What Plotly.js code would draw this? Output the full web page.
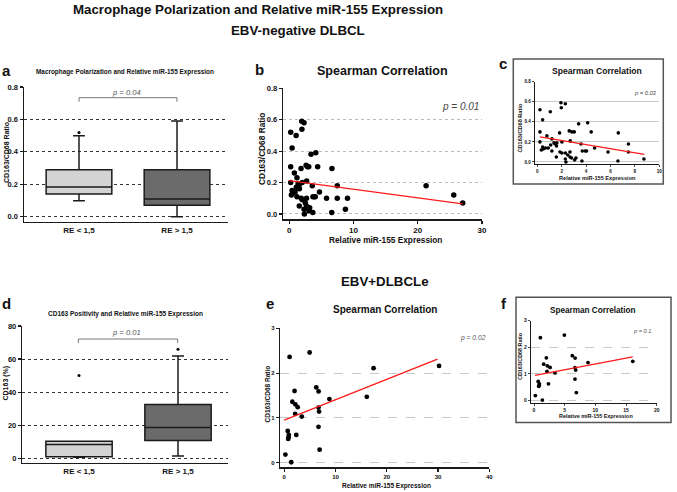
<!DOCTYPE html>
<html><head><meta charset="utf-8">
<script src="https://cdn.plot.ly/plotly-3.0.1.min.js"></script>
<style>html,body{margin:0;padding:0;background:#fff}#chart{width:677px;height:492px}</style>
</head><body><div id="chart"></div>
<script>
// ---------- DATA ----------
const boxCats = ['RE < 1,5', 'RE > 1,5'];
// a: CD163/CD68 ratio by relative miR-155 expression group
const ratioQ1 = [0.14, 0.07];
const ratioMedian = [0.183, 0.109];
const ratioQ3 = [0.29, 0.29];
const ratioLow = [0.099, 0.0];
const ratioHigh = [0.50, 0.59];
const ratioOutCat = ['RE < 1,5'];
const ratioOutY = [0.52];
// d: CD163 positivity (%)
const cd163Q1 = [1.0, 10.7];
const cd163Median = [8.3, 18.6];
const cd163Q3 = [10.3, 32.5];
const cd163Low = [0.6, 1.4];
const cd163High = [10.3, 61.8];
const cd163OutCat = ['RE < 1,5', 'RE > 1,5'];
const cd163OutY = [50, 66];

// b: EBV-negative, all cases
const bX = [0.22,0.44,1.07,1.94,2.30,1.97,3.39,4.13,0.22,0.79,1.83,2.62,2.84,3.03,4.42,6.64,0.22,1.20,1.37,1.48,1.60,2.02,2.70,3.58,7.47,0.44,0.68,0.90,0.33,1.58,1.20,1.56,1.86,2.02,2.30,2.68,3.69,3.93,4.04,4.70,5.80,7.47,2.30,2.35,2.68,3.06,3.17,2.81,3.66,6.61,8.74,0.50,1.10,2.50,9.06,21.3,25.6,27.0];
const bY = [0.52,0.42,0.50,0.59,0.58,0.54,0.38,0.39,0.30,0.26,0.29,0.31,0.30,0.30,0.30,0.29,0.20,0.23,0.19,0.18,0.19,0.20,0.21,0.18,0.18,0.15,0.14,0.14,0.12,0.16,0.11,0.05,0.10,0.09,0.09,0.10,0.11,0.11,0.11,0.14,0.10,0.10,0.03,0.00,0.05,0.02,0.04,0.04,0.01,0.01,0.03,0.13,0.17,0.07,0.10,0.18,0.12,0.07];
const bFitX = [0, 27.0];
const bFitY = [0.212, 0.064];
// c: EBV-negative, expression < 10
const cX = [0.22,0.44,1.07,1.94,2.30,1.97,3.39,4.13,0.22,0.79,1.83,2.62,2.84,3.03,4.42,6.64,0.22,1.20,1.37,1.48,1.60,2.02,2.70,3.58,7.47,0.44,0.68,0.90,0.33,1.58,1.20,1.56,1.86,2.02,2.30,2.68,3.69,3.93,4.04,4.70,5.80,7.47,2.30,2.35,2.68,3.06,3.17,2.81,3.66,6.61,8.74,0.50,1.10,2.50];
const cY = [0.52,0.42,0.50,0.59,0.58,0.54,0.38,0.39,0.30,0.26,0.29,0.31,0.30,0.30,0.30,0.29,0.20,0.23,0.19,0.18,0.19,0.20,0.21,0.18,0.18,0.15,0.14,0.14,0.12,0.16,0.11,0.05,0.10,0.09,0.09,0.10,0.11,0.11,0.11,0.14,0.10,0.10,0.03,0.00,0.05,0.02,0.04,0.04,0.01,0.01,0.03,0.13,0.17,0.07];
const cFitX = [0.22, 8.77];
const cFitY = [0.25, 0.076];
// e: EBV+ DLBCL, all cases
const eX = [0.22,1.36,1.04,4.95,2.01,1.58,2.17,2.62,2.12,3.42,0.68,0.88,0.84,0.77,2.35,6.25,6.70,6.68,6.79,6.68,6.90,8.80,16.1,17.42,30.2];
const eY = [0.18,0.01,2.36,2.46,1.60,1.36,1.30,1.24,1.09,1.03,0.71,0.62,0.57,0.53,0.62,1.68,1.59,1.23,1.14,0.80,0.29,1.42,1.47,2.11,2.16];
const eFitX = [0, 29.9];
const eFitY = [0.95, 2.31];
// f: EBV+ DLBCL, expression < 20
const fX = [0.22,1.36,1.04,4.95,2.01,1.58,2.17,2.62,2.12,3.42,0.68,0.88,0.84,0.77,2.35,6.25,6.70,6.68,6.79,6.68,6.90,8.80,16.1];
const fY = [0.18,0.01,2.36,2.46,1.60,1.36,1.30,1.24,1.09,1.03,0.71,0.62,0.57,0.53,0.62,1.68,1.59,1.23,1.14,0.80,0.29,1.42,1.47];
const fFitX = [0.16, 16.1];
const fFitY = [0.94, 1.64];

// ---------- HELPERS ----------
const W = 677, H = 492;
const px = v => v / W;
const py = v => 1 - v / H;
const FONT = 'Liberation Sans, Arial, sans-serif';

function ann(text, x, y, size, extra) {
  return Object.assign({
    text: text, x: px(x), y: py(y), xref: 'paper', yref: 'paper',
    showarrow: false, xanchor: 'center', yanchor: 'middle',
    font: {family: FONT, size: size, color: '#111'}
  }, extra || {});
}
function tf(size) { return {family: FONT, size: size, color: '#111', weight: 700}; }
function axis(domainPx, range, opts, vertical) {
  const d = vertical ? [py(domainPx[0]), py(domainPx[1])] : [px(domainPx[0]), px(domainPx[1])];
  return Object.assign({
    domain: d, range: range, showline: true, linecolor: '#1a1a1a', linewidth: 1.5,
    ticks: 'outside', ticklen: 3, tickwidth: 1.2, tickcolor: '#1a1a1a',
    zeroline: false, showgrid: false, fixedrange: true,
    tickfont: tf(7.5)
  }, opts || {});
}

const boxLine = {color: '#1a1a1a', width: 1.5};
function boxTrace(xa, ya, i, q1, med, q3, lo, hi, fill) {
  return {type: 'box', xaxis: xa, yaxis: ya, x: [boxCats[i]],
    q1: [q1[i]], median: [med[i]], q3: [q3[i]], lowerfence: [lo[i]], upperfence: [hi[i]],
    fillcolor: fill, line: boxLine, whiskerwidth: 0.18, width: 0.67, boxpoints: false,
    hoverinfo: 'skip'};
}
function dots(xa, ya, x, y, size) {
  return {type: 'scatter', mode: 'markers', xaxis: xa, yaxis: ya, x: x, y: y,
    marker: {color: '#000', size: size}, hoverinfo: 'skip'};
}
function fit(xa, ya, x, y) {
  return {type: 'scatter', mode: 'lines', xaxis: xa, yaxis: ya, x: x, y: y,
    line: {color: '#ff1a1a', width: 1.3}, hoverinfo: 'skip'};
}

const traces = [
  boxTrace('x', 'y', 0, ratioQ1, ratioMedian, ratioQ3, ratioLow, ratioHigh, '#d3d3d3'),
  boxTrace('x', 'y', 1, ratioQ1, ratioMedian, ratioQ3, ratioLow, ratioHigh, '#6b6b6b'),
  dots('x', 'y', ratioOutCat, ratioOutY, 3),
  dots('x2', 'y2', bX, bY, 5.5),
  fit('x2', 'y2', bFitX, bFitY),
  dots('x3', 'y3', cX, cY, 3.6),
  fit('x3', 'y3', cFitX, cFitY),
  boxTrace('x4', 'y4', 0, cd163Q1, cd163Median, cd163Q3, cd163Low, cd163High, '#d3d3d3'),
  boxTrace('x4', 'y4', 1, cd163Q1, cd163Median, cd163Q3, cd163Low, cd163High, '#6b6b6b'),
  dots('x4', 'y4', cd163OutCat, cd163OutY, 3),
  dots('x5', 'y5', eX, eY, 4.8),
  fit('x5', 'y5', eFitX, eFitY),
  dots('x6', 'y6', fX, fY, 3.8),
  fit('x6', 'y6', fFitX, fFitY)
];

const dotGridDark = {showgrid: true, gridcolor: '#333', gridwidth: 1, griddash: 'dot'};
const dotGridLight = {showgrid: true, gridcolor: '#aaa', gridwidth: 0.8, griddash: 'dot'};
const dashGrid = {showgrid: true, gridcolor: '#c8c8c8', gridwidth: 1, griddash: 'dash'};
const catAxis = {type: 'category', categoryarray: boxCats, categoryorder: 'array', ticks: '',
  tickfont: tf(8)};

const layout = {
  width: W, height: H, margin: {l: 0, r: 0, t: 0, b: 0},
  paper_bgcolor: '#fff', plot_bgcolor: 'rgba(0,0,0,0)', showlegend: false,
  // a
  xaxis: axis([24, 228], [-0.561, 1.52], Object.assign({anchor: 'y'}, catAxis)),
  yaxis: axis([221.7, 87], [-0.031, 0.8], Object.assign({anchor: 'x', dtick: 0.2, tick0: 0, tickformat: '.1f'}, dotGridDark), true),
  // b
  xaxis2: axis([283.3, 482], [-0.93, 30], {anchor: 'y2', dtick: 10, tick0: 0, tickfont: tf(8)}),
  yaxis2: axis([219.3, 88.3], [-0.034, 0.8], Object.assign({anchor: 'x2', dtick: 0.2, tick0: 0, tickformat: '.1f'}, dotGridLight), true),
  // c
  xaxis3: axis([534.7, 659.3], [-0.21, 10], {anchor: 'y3', dtick: 2, tick0: 0, ticklen: 2, linewidth: 1, tickwidth: 0.8, tickfont: tf(4.6)}),
  yaxis3: axis([164.3, 81.7], [-0.023, 0.8], Object.assign({anchor: 'x3', dtick: 0.2, tick0: 0, tickformat: '.1f', ticklen: 2, linewidth: 1, tickwidth: 0.8, tickfont: tf(4.6)}, {showgrid: true, gridcolor: '#bbb', gridwidth: 0.8}), true),
  // d
  xaxis4: axis([22.3, 228], [-0.573, 1.505], Object.assign({anchor: 'y4'}, catAxis)),
  yaxis4: axis([462.7, 326], [-2.66, 80], Object.assign({anchor: 'x4', dtick: 20, tick0: 0}, dotGridDark), true),
  // e
  xaxis5: axis([280, 489.3], [-0.83, 40], {anchor: 'y5', dtick: 10, tick0: 0, linewidth: 1.2, tickfont: tf(6)}),
  yaxis5: axis([467.3, 328.3], [-0.103, 3], Object.assign({anchor: 'x5', dtick: 1, tick0: 0, linewidth: 1.2, tickfont: tf(6)}, dashGrid), true),
  // f
  xaxis6: axis([530.7, 656.7], [-0.54, 20], {anchor: 'y6', dtick: 5, tick0: 0, ticklen: 2, linewidth: 1, tickwidth: 0.8, tickfont: tf(5)}),
  yaxis6: axis([403.3, 320.7], [-0.113, 3], Object.assign({anchor: 'x6', dtick: 1, tick0: 0, ticklen: 2, linewidth: 1, tickwidth: 0.8, tickfont: tf(5)}, dashGrid), true),
  shapes: [
    {type: 'rect', xref: 'paper', yref: 'paper', x0: px(513.3), x1: px(663.3), y0: py(59), y1: py(184), line: {color: '#555', width: 1.5}},
    {type: 'rect', xref: 'paper', yref: 'paper', x0: px(516), x1: px(671), y0: py(297.3), y1: py(422.5), line: {color: '#555', width: 1.5}},
    {type: 'path', xref: 'paper', yref: 'paper', line: {color: '#777', width: 1},
      path: `M ${px(79)},${py(101.7)} L ${px(79)},${py(97.7)} L ${px(177)},${py(97.7)} L ${px(177)},${py(101.7)}`},
    {type: 'path', xref: 'paper', yref: 'paper', line: {color: '#777', width: 1},
      path: `M ${px(78.3)},${py(343)} L ${px(78.3)},${py(339)} L ${px(177.7)},${py(339)} L ${px(177.7)},${py(343)}`}
  ],
  annotations: [
    ann('<b>Macrophage Polarization and Relative miR-155 Expression</b>', 257.5, 9.5, 13.3),
    ann('<b>EBV-negative DLBCL</b>', 297.5, 31, 13.3),
    ann('<b>EBV+DLBCLe</b>', 385, 281, 13.3),
    ann('<b>a</b>', 6, 71, 15),
    ann('<b>b</b>', 259.7, 69.5, 15),
    ann('<b>c</b>', 503, 63.5, 15),
    ann('<b>d</b>', 6.3, 303, 15),
    ann('<b>e</b>', 269.5, 303.5, 15),
    ann('<b>f</b>', 503.7, 303, 15),
    ann('<b>Macrophage Polarization and Relative miR-155 Expression</b>', 125.3, 72.3, 6.4),
    ann('<b>Spearman Correlation</b>', 382.8, 71, 12.5),
    ann('<b>Spearman Correlation</b>', 596.7, 70.5, 8.6),
    ann('<b>CD163 Positivity and Relative miR-155 Expression</b>', 125, 313.5, 6.5),
    ann('<b>Spearman Correlation</b>', 384.5, 309, 10),
    ann('<b>Spearman Correlation</b>', 592.8, 310.3, 8.2),
    // axis titles
    ann('<b>CD163/CD68 Ratio</b>', 6, 153, 7, {textangle: -90}),
    ann('<b>CD163/CD68 Ratio</b>', 262, 149, 8.3, {textangle: -90}),
    ann('<b>Relative miR-155 Expression</b>', 385, 240, 8.3),
    ann('<b>CD163/CD68 Ratio</b>', 519.5, 128, 5.6, {textangle: -90}),
    ann('<b>Relative miR-155 Expression</b>', 597.7, 178.3, 5.6),
    ann('<b>CD163 (%)</b>', 5.5, 383, 7, {textangle: -90}),
    ann('<b>CD163/CD68 Ratio</b>', 266.5, 394, 6.5, {textangle: -90}),
    ann('<b>Relative miR-155 Expression</b>', 386.8, 486, 6.5),
    ann('<b>CD163/CD68 Ratio</b>', 520, 356, 5.4, {textangle: -90}),
    ann('<b>Relative miR-155 Expression</b>', 595.5, 415.7, 5.4),
    // p-values
    ann('<i>p = 0.04</i>', 126, 92, 7.6, {font: {family: FONT, size: 7.6, color: '#555'}}),
    ann('<i>p = 0.01</i>', 481, 106.7, 10, {xanchor: 'right', font: {family: FONT, size: 10, color: '#444'}}),
    ann('<i>p = 0.03</i>', 659, 93.3, 5.7, {xanchor: 'right', font: {family: FONT, size: 5.7, color: '#444'}}),
    ann('<i>p = 0.01</i>', 126, 332.7, 7.6, {font: {family: FONT, size: 7.6, color: '#555'}}),
    ann('<i>p = 0.02</i>', 488.5, 337.7, 6.7, {xanchor: 'right', font: {family: FONT, size: 6.7, color: '#555'}}),
    ann('<i>p = 0.1</i>', 653, 331, 5.6, {xanchor: 'right', font: {family: FONT, size: 5.6, color: '#555'}})
  ]
};

Plotly.newPlot('chart', traces, layout, {staticPlot: true, displayModeBar: false});
</script>
</body></html>
